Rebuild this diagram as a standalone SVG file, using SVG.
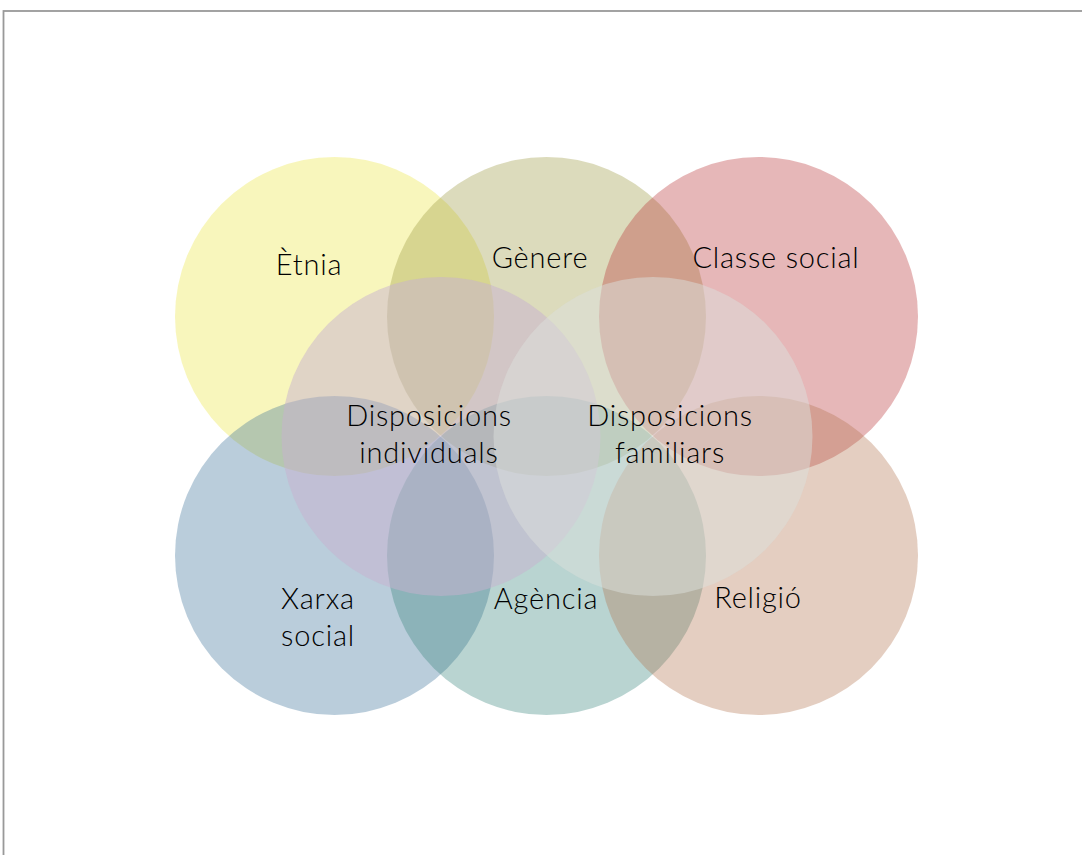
<svg xmlns="http://www.w3.org/2000/svg" width="1082" height="855" viewBox="0 0 1082 855">
  <style>
    .base { opacity: 0.35; }
    .mid { opacity: 0.5; }
    text { font-family: "Lato", "Liberation Sans", sans-serif; font-weight: 300; font-size: 29px; fill: #000; text-anchor: middle; letter-spacing: 0.8px; }
  </style>
  <rect x="0" y="0" width="1082" height="855" fill="#ffffff"/>
  <rect x="3.5" y="11" width="1100" height="900" fill="none" stroke="#999999" stroke-width="1.8"/>
  <g id="circles">
    <g id="etnia"><circle class="base" cx="334.5" cy="316.5" r="159.5" fill="#EBE540"/></g>
    <g id="genere"><circle class="base" cx="546.5" cy="316.5" r="159.5" fill="#9B9840"/></g>
    <g id="classe-social"><circle class="base" cx="758.5" cy="316.5" r="159.5" fill="#B83134"/></g>
    <g id="xarxa-social"><circle class="base" cx="334.5" cy="555.5" r="159.5" fill="#3A7098"/></g>
    <g id="agencia"><circle class="base" cx="546.5" cy="555.5" r="159.5" fill="#37847C"/></g>
    <g id="religio"><circle class="base" cx="758.5" cy="555.5" r="159.5" fill="#B2734E"/></g>
    <g id="disposicions-individuals"><circle class="mid" cx="441" cy="436.5" r="159.5" fill="#C8B2D0"/></g>
    <g id="disposicions-familiars"><circle class="mid" cx="653" cy="436.5" r="159.5" fill="#DCDFDC"/></g>
  </g>
  <g id="connectors"></g>
  <g id="labels">
    <text x="309" y="275">Ètnia</text>
    <text x="540" y="268">Gènere</text>
    <text x="776" y="268">Classe social</text>
    <text x="429" y="426">Disposicions</text>
    <text x="429" y="463">individuals</text>
    <text x="670" y="426">Disposicions</text>
    <text x="670" y="463">familiars</text>
    <text x="318" y="609">Xarxa</text>
    <text x="318" y="646">social</text>
    <text x="546" y="609">Agència</text>
    <text x="758" y="608">Religió</text>
  </g>
</svg>
